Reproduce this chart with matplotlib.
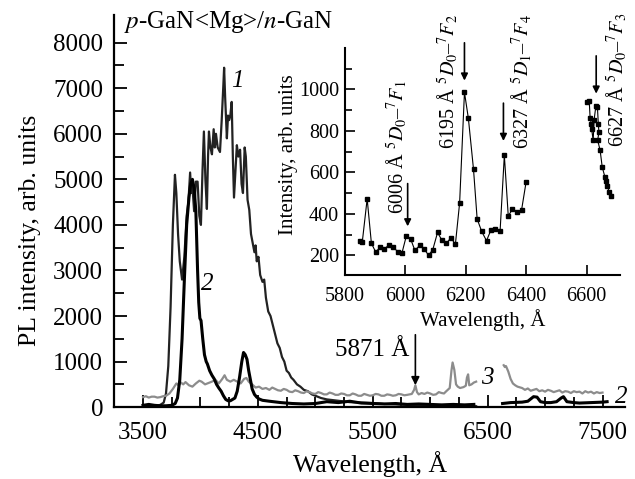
# PL spectra of p-GaN<Mg>/n-GaN with Eu lines inset

import numpy as np
import matplotlib.pyplot as plt

plt.rcParams['font.family'] = ['Liberation Serif', 'DejaVu Serif']
plt.rcParams['mathtext.fontset'] = 'stix'

# curve 1
wl1 = [3500, 3550, 3600, 3650, 3680, 3700, 3720, 3740, 3760, 3778, 3790, 3805, 3820, 3840, 3860,
       3880, 3895, 3910, 3920, 3930, 3945, 3960, 3975, 3990, 4004, 4018, 4030, 4043, 4056, 4066,
       4074, 4087, 4100, 4115, 4125, 4135, 4150, 4170, 4185, 4200, 4206, 4215, 4230, 4240, 4250,
       4260, 4272, 4282, 4292, 4305, 4317, 4330, 4345, 4358, 4370, 4385, 4395, 4410, 4425, 4440,
       4455, 4470, 4480, 4490, 4505, 4520, 4540, 4555, 4570, 4590, 4610, 4630, 4650, 4670, 4690,
       4710, 4730, 4750, 4770, 4790, 4810, 4840, 4870, 4900, 4935, 4970, 5000, 5050, 5100, 5200,
       5300, 5400, 5500, 5600, 5700, 5800, 5900, 6000, 6100, 6200, 6300, 6400]
pl1 = [30, 40, 20, 50, 100, 300, 900, 2200, 4000, 5100, 4700, 3800, 3200, 2800, 3300,
       4200, 4500, 5150, 4700, 4850, 4300, 4950, 4950, 4200, 4000, 5200, 6050, 5000, 4350, 5500,
       6050, 5700, 5550, 6100, 5700, 6000, 5700, 5600, 6300, 7100, 7450, 6800, 5900, 6400, 6300,
       6400, 6700, 5500, 4600, 5200, 5750, 5500, 5650, 4900, 4700, 5700, 5500, 4550, 4330, 3800,
       3600, 3400, 3550, 3200, 3300, 2900, 2750, 2800, 2400, 2100, 2000, 1800, 1600, 1400, 1300,
       1100, 1000, 800, 750, 650, 600, 500, 450, 380, 350, 280, 250, 200, 170, 140,
       110, 100, 90, 70, 60, 50, 50, 40, 40, 30, 30, 20]

# curve 2, two detector ranges
wl2a = [3500, 3550, 3600, 3650, 3700, 3750, 3780, 3800, 3820, 3840, 3860, 3880, 3900, 3915, 3930,
        3945, 3960, 3975, 3985, 3995, 4005, 4020, 4035, 4050, 4060, 4080, 4100, 4120, 4140, 4160,
        4180, 4200, 4220, 4240, 4260, 4280, 4300, 4320, 4340, 4360, 4375, 4390, 4405, 4420, 4435,
        4450, 4470, 4490, 4510, 4540, 4600, 4700, 4800, 4900, 5000, 5100, 5200, 5300, 5400, 5500,
        5600, 5700, 5800, 5900, 6000, 6100, 6200, 6300, 6380]
pl2a = [40, 60, 40, 30, 30, 40, 80, 200, 600, 1500, 2800, 4000, 4600, 4900, 5000,
        4800, 4300, 3000, 2300, 1950, 1900, 1500, 1150, 1000, 950, 800, 700, 620, 500, 420,
        350, 250, 170, 140, 140, 170, 200, 350, 650, 1000, 1200, 1150, 1050, 800, 600,
        400, 280, 220, 180, 150, 130, 100, 80, 70, 80, 120, 100, 130, 90, 80,
        70, 80, 60, 70, 60, 50, 60, 50, 60]
wl2b = [6630, 6700, 6800, 6850, 6900, 6930, 6960, 7000, 7050, 7100, 7140, 7160, 7190, 7250, 7300,
        7400, 7500, 7540]
pl2b = [80, 100, 110, 130, 230, 220, 120, 100, 100, 120, 200, 230, 120, 100, 90,
        100, 110, 120]

# curve 3
wl3a = [3500, 3525, 3550, 3575, 3600, 3625, 3650, 3675, 3700, 3730, 3760, 3790, 3810, 3830, 3850,
        3870, 3900, 3930, 3960, 3990, 4010, 4040, 4070, 4100, 4130, 4160, 4190, 4210, 4230, 4260,
        4290, 4320, 4350, 4380, 4400, 4420, 4450, 4480, 4510, 4540, 4570, 4600, 4625, 4650, 4675,
        4700, 4725, 4750, 4775, 4800, 4825, 4850, 4875, 4900, 4925, 4950, 4975, 5000, 5025, 5050,
        5075, 5100, 5125, 5150, 5175, 5200, 5225, 5250, 5275, 5300, 5325, 5350, 5375, 5400, 5425,
        5450, 5475, 5500, 5525, 5550, 5575, 5600, 5625, 5650, 5675, 5700, 5725, 5750, 5775, 5800,
        5840, 5860, 5871, 5885, 5900, 5925, 5950, 5975, 6000, 6025, 6050, 6075, 6100, 6120, 6140,
        6170, 6185, 6195, 6210, 6225, 6240, 6260, 6290, 6310, 6320, 6330, 6340, 6360, 6380, 6400]
pl3a = [220, 240, 210, 230, 230, 210, 220, 240, 250, 300, 400, 520, 480, 540, 500,
        550, 480, 450, 520, 580, 560, 500, 530, 560, 600, 520, 620, 700, 600, 560,
        600, 560, 520, 620, 640, 560, 500, 430, 450, 400, 420, 380, 430, 400, 370,
        360, 400, 380, 340, 330, 370, 350, 320, 310, 350, 330, 300, 290, 330, 310,
        280, 280, 320, 300, 270, 270, 300, 290, 260, 260, 300, 280, 250, 250, 290,
        270, 250, 260, 290, 280, 250, 250, 280, 270, 250, 260, 290, 280, 260, 270,
        290, 380, 480, 330, 280, 310, 290, 320, 300, 270, 280, 330, 310, 300, 350,
        420, 800, 980, 820, 500, 450, 420, 440, 470, 650, 720, 480, 500, 540, 560]
wl3b = [6640, 6650, 6660, 6680, 6700, 6720, 6740, 6760, 6800, 6825, 6850, 6875, 6900, 6925, 6950,
        6975, 7000, 7025, 7050, 7075, 7100, 7125, 7150, 7175, 7200, 7225, 7250, 7275, 7300, 7325,
        7350, 7375, 7400, 7425, 7450, 7475, 7500]
pl3b = [920, 880, 900, 780, 620, 520, 480, 450, 420, 380, 410, 360, 380, 400, 350,
        370, 340, 380, 360, 330, 350, 370, 320, 350, 340, 310, 350, 330, 340, 300,
        350, 320, 340, 300, 330, 310, 320]

# inset: Eu3+ lines
wl_in_a = [5850, 5858, 5874, 5888, 5902, 5918, 5930, 5945, 5960, 5975, 5989, 6004, 6018, 6032, 6048,
           6062, 6077, 6091, 6107, 6121, 6136, 6151, 6166, 6180, 6196, 6209, 6226, 6238, 6253, 6269,
           6284, 6298, 6314, 6328, 6341, 6355, 6371, 6385, 6400]
pl_in_a = [270, 266, 472, 258, 216, 239, 229, 248, 242, 216, 210, 295, 278, 223, 248,
           232, 200, 226, 310, 273, 257, 284, 253, 452, 986, 860, 614, 375, 315, 270,
           323, 329, 318, 682, 389, 423, 410, 418, 553]
wl_in_b = [6603, 6609, 6612, 6616, 6617, 6622, 6625, 6631, 6636, 6639, 6641, 6637, 6645, 6652, 6661,
           6666, 6669, 6675, 6680]
pl_in_b = [940, 943, 860, 835, 808, 754, 851, 921, 916, 835, 795, 754, 706, 625, 577,
           560, 536, 504, 485]

fig = plt.figure(figsize=(6.35, 4.79), dpi=100)
ax = fig.add_axes([0.18, 0.150, 0.805, 0.818])

ax.plot(wl1, pl1, color='#222222', lw=1.6)
ax.plot(wl3a, pl3a, color='#8c8c8c', lw=1.6)
ax.plot(wl3b, pl3b, color='#8c8c8c', lw=1.6)
ax.plot(wl2a, pl2a, color='black', lw=2.2)
ax.plot(wl2b, pl2b, color='black', lw=2.2)

ax.set_xlim(3250, 7700)
ax.set_ylim(0, 8600)
ax.set_xticks([3500, 4500, 5500, 6500, 7500])
ax.set_xticks(np.arange(3500, 7501, 250), minor=True)
ax.set_yticks(np.arange(0, 8001, 1000))
ax.set_yticks(np.arange(0, 8001, 500), minor=True)
ax.tick_params(which='both', direction='in', labelsize=18, width=1.3)
ax.tick_params(which='major', length=9)
ax.tick_params(which='minor', length=7)
ax.tick_params(axis='y', pad=8)
ax.tick_params(axis='x', pad=11)
for s in ['top', 'right']:
    ax.spines[s].set_visible(False)
for s in ['left', 'bottom']:
    ax.spines[s].set_linewidth(1.6)

ax.set_xlabel('Wavelength, Å', fontsize=18.5, labelpad=5)
fig.text(30 / 635, 1 - 230 / 479, 'PL intensity, arb. units', fontsize=18.5,
         rotation=90, ha='center', va='center')
fig.text(124 / 635, 1 - 22 / 479, r'$p$-GaN<Mg>/$n$-GaN', fontsize=18,
         ha='left', va='center')

ax.text(4320, 7150, '1', fontsize=18, style='italic', ha='center', va='center')
ax.text(4060, 2700, '2', fontsize=18, style='italic', ha='center', va='center')
ax.text(6500, 650, '3', fontsize=18, style='italic', ha='center', va='center')
ax.text(7660, 220, '2', fontsize=18, style='italic', ha='center', va='center')

ax.annotate('', xy=(5871, 420), xytext=(5871, 1650),
            arrowprops=dict(arrowstyle='-|>', color='black', lw=1.2, mutation_scale=12))
ax.text(5820, 1250, '5871 Å', fontsize=18, ha='right', va='center')

# inset
axi = fig.add_axes([0.543, 0.426, 0.433, 0.474])
axi.set_facecolor('none')
axi.plot(wl_in_a, pl_in_a, color='black', lw=0.8, marker='s', ms=3)
axi.plot(wl_in_b, pl_in_b, color='black', lw=0.8, marker='s', ms=3)
axi.set_xlim(5800, 6710)
axi.set_ylim(105, 1200)
axi.set_xticks([5800, 6000, 6200, 6400, 6600])
axi.set_yticks([200, 400, 600, 800, 1000])
axi.set_yticks(np.arange(200, 1101, 100), minor=True)
axi.tick_params(which='both', direction='in', labelsize=14.5, width=1.2)
axi.tick_params(which='major', length=7)
axi.tick_params(which='minor', length=5)
axi.tick_params(axis='y', pad=4)
axi.tick_params(axis='x', pad=9)
for s in ['top', 'right']:
    axi.spines[s].set_visible(False)
for s in ['left', 'bottom']:
    axi.spines[s].set_linewidth(1.5)
axi.set_xlabel('Wavelength, Å', fontsize=15, labelpad=2)
fig.text(288 / 635, 1 - 155 / 479, 'Intensity, arb. units', fontsize=15,
         rotation=90, ha='center', va='center')

lines = [
    (6008, 559, 326, 5972, 724, r'6006 Å $^5D_0$–$^7F_1$'),
    (6196, 1238, 1029, 6140, 1039, r'6195 Å $^5D_0$–$^7F_2$'),
    (6325, 947, 738, 6384, 1039, r'6327 Å $^5D_1$–$^7F_4$'),
    (6632, 1175, 966, 6698, 1044, r'6627 Å $^5D_0$–$^7F_3$'),
]
for x0, y_from, y_to, tx, ty, lab in lines:
    axi.annotate('', xy=(x0, y_to), xytext=(x0, y_from), annotation_clip=False,
                 arrowprops=dict(arrowstyle='-|>', color='black', lw=1.2, mutation_scale=10))
    axi.text(tx, ty, lab, fontsize=14.5, rotation=90, ha='center', va='center', clip_on=False)

fig.savefig('out.png', dpi=100)
